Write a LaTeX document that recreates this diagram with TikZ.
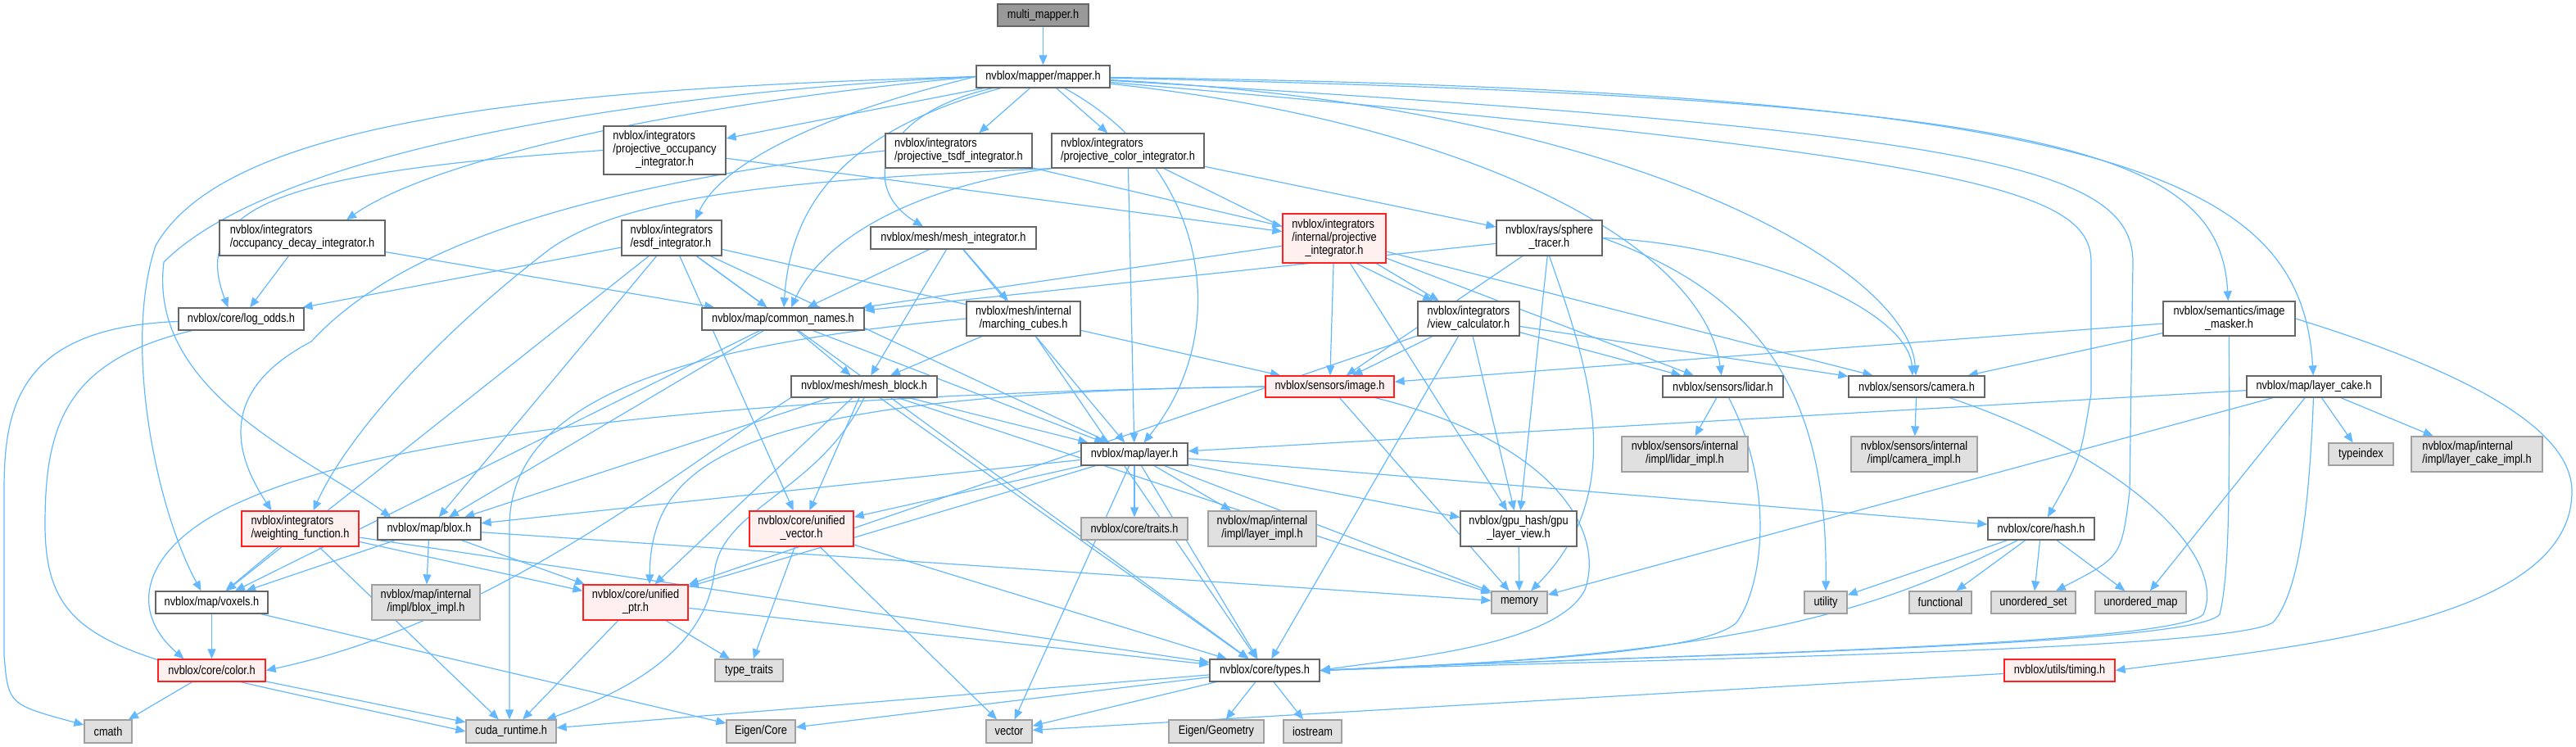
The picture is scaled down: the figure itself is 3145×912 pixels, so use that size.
\documentclass[tikz,border=0pt]{standalone}
\usepackage{fontspec}
\setmainfont{Liberation Sans}[FakeStretch=0.85]
\usetikzlibrary{arrows.meta}
\definecolor{edgec}{HTML}{63B8FF}
\definecolor{wbord}{HTML}{666666}
\definecolor{gbord}{HTML}{A0A0A0}
\definecolor{gfill}{HTML}{E0E0E0}
\definecolor{rbord}{HTML}{FF2020}
\definecolor{rfill}{HTML}{FFF0F0}
\definecolor{rootfill}{HTML}{999999}
\pgfdeclarelayer{bg}
\pgfsetlayers{bg,main}
\newcommand\ml[1]{\begin{tabular}{@{}l@{}}#1\end{tabular}}
\newcommand\lc[1]{\multicolumn{1}{@{}c@{}}{#1}}
\newcommand\nd[7]{\node[#2, minimum width={#5-#3}, minimum height={#6-#4}] (#1) at ({(#3+#5)/2},{(#4+#6)/2}) {#7};}
\begin{document}
\begin{tikzpicture}[x=1pt,y=-1pt,
  font=\fontsize{15}{16}\selectfont,
  wbox/.style={rectangle, draw=wbord, fill=white, line width=1.3pt, inner sep=0pt},
  gbox/.style={rectangle, draw=gbord, fill=gfill, line width=1.3pt, inner sep=0pt},
  rbox/.style={rectangle, draw=rbord, fill=rfill, line width=1.3pt, inner sep=0pt},
  rootbox/.style={rectangle, draw=wbord, fill=rootfill, line width=1.3pt, inner sep=0pt},
  edge/.style={draw=edgec, line width=1.2pt, -{Triangle[length=12pt,width=10pt]}}]
\useasboundingbox (0,0) rectangle (3145,912);
\nd{root}{rootbox}{1218}{5}{1329}{32}{multi\_mapper.h}
\nd{mapper}{wbox}{1192}{80}{1355}{107}{nvblox/mapper/mapper.h}
\nd{projocc}{wbox}{737}{154}{886}{213}{\ml{nvblox/integrators\\/projective\_occupancy\\\lc{\_integrator.h}}}
\nd{occdecay}{wbox}{268}{269}{470}{312}{\ml{nvblox/integrators\\/occupancy\_decay\_integrator.h}}
\nd{esdf}{wbox}{759}{269}{881}{312}{\ml{nvblox/integrators\\/esdf\_integrator.h}}
\nd{projtsdf}{wbox}{1081}{163}{1260}{205}{\ml{nvblox/integrators\\/projective\_tsdf\_integrator.h}}
\nd{projcolor}{wbox}{1284}{163}{1470}{205}{\ml{nvblox/integrators\\/projective\_color\_integrator.h}}
\nd{meshint}{wbox}{1063}{277}{1265}{304}{nvblox/mesh/mesh\_integrator.h}
\nd{projint}{rbox}{1566}{261}{1692}{321}{\ml{nvblox/integrators\\/internal/projective\\\lc{\_integrator.h}}}
\nd{sphere}{wbox}{1827}{269}{1956}{312}{\ml{nvblox/rays/sphere\\\lc{\_tracer.h}}}
\nd{logodds}{wbox}{218}{376}{371}{403}{nvblox/core/log\_odds.h}
\nd{common}{wbox}{857}{376}{1055}{403}{nvblox/map/common\_names.h}
\nd{marching}{wbox}{1180}{368}{1319}{410}{\ml{nvblox/mesh/internal\\\lc{/marching\_cubes.h}}}
\nd{viewcalc}{wbox}{1731}{368}{1855}{410}{\ml{nvblox/integrators\\\lc{/view\_calculator.h}}}
\nd{imagemasker}{wbox}{2641}{368}{2802}{410}{\ml{nvblox/semantics/image\\\lc{\_masker.h}}}
\nd{meshblock}{wbox}{966}{459}{1144}{485}{nvblox/mesh/mesh\_block.h}
\nd{image}{rbox}{1545}{459}{1702}{485}{nvblox/sensors/image.h}
\nd{lidar}{wbox}{2030}{459}{2177}{485}{nvblox/sensors/lidar.h}
\nd{camera}{wbox}{2257}{459}{2423}{485}{nvblox/sensors/camera.h}
\nd{layercake}{wbox}{2743}{459}{2907}{485}{nvblox/map/layer\_cake.h}
\nd{layer}{wbox}{1320}{541}{1450}{568}{nvblox/map/layer.h}
\nd{lidarimpl}{gbox}{1980}{533}{2134}{576}{\ml{nvblox/sensors/internal\\\lc{/impl/lidar\_impl.h}}}
\nd{cameraimpl}{gbox}{2260}{533}{2414}{576}{\ml{nvblox/sensors/internal\\\lc{/impl/camera\_impl.h}}}
\nd{typeindex}{gbox}{2843}{541}{2922}{568}{typeindex}
\nd{layercakeimpl}{gbox}{2944}{533}{3104}{576}{\ml{nvblox/map/internal\\\lc{/impl/layer\_cake\_impl.h}}}
\nd{weighting}{rbox}{295}{624}{438}{667}{\ml{nvblox/integrators\\\lc{/weighting\_function.h}}}
\nd{blox}{wbox}{461}{632}{587}{659}{nvblox/map/blox.h}
\nd{unifiedvector}{rbox}{915}{624}{1042}{667}{\ml{nvblox/core/unified\\\lc{\_vector.h}}}
\nd{traits}{gbox}{1320}{632}{1450}{659}{nvblox/core/traits.h}
\nd{layerimpl}{gbox}{1475}{624}{1607}{667}{\ml{nvblox/map/internal\\\lc{/impl/layer\_impl.h}}}
\nd{gpulayer}{wbox}{1783}{624}{1925}{667}{\ml{nvblox/gpu\_hash/gpu\\\lc{\_layer\_view.h}}}
\nd{hash}{wbox}{2427}{632}{2557}{659}{nvblox/core/hash.h}
\nd{voxels}{wbox}{190}{722}{327}{749}{nvblox/map/voxels.h}
\nd{bloximpl}{gbox}{454}{714}{586}{757}{\ml{nvblox/map/internal\\\lc{/impl/blox\_impl.h}}}
\nd{unifiedptr}{rbox}{712}{714}{840}{757}{\ml{nvblox/core/unified\\\lc{\_ptr.h}}}
\nd{memory}{gbox}{1821}{722}{1889}{749}{memory}
\nd{utility}{gbox}{2203}{722}{2255}{749}{utility}
\nd{functional}{gbox}{2331}{722}{2407}{749}{functional}
\nd{uset}{gbox}{2431}{722}{2534}{749}{unordered\_set}
\nd{umap}{gbox}{2558}{722}{2669}{749}{unordered\_map}
\nd{color}{rbox}{193}{805}{324}{832}{nvblox/core/color.h}
\nd{typetraits}{gbox}{873}{805}{956}{832}{type\_traits}
\nd{types}{wbox}{1477}{805}{1611}{832}{nvblox/core/types.h}
\nd{timing}{rbox}{2447}{805}{2582}{832}{nvblox/utils/timing.h}
\nd{cmath}{gbox}{103}{879}{161}{907}{cmath}
\nd{cuda}{gbox}{569}{879}{679}{907}{cuda\_runtime.h}
\nd{eigencore}{gbox}{887}{879}{971}{907}{Eigen/Core}
\nd{vector}{gbox}{1204}{879}{1260}{907}{vector}
\nd{eigengeom}{gbox}{1427}{879}{1543}{907}{Eigen/Geometry}
\nd{iostream}{gbox}{1567}{879}{1638}{907}{iostream}
\begin{pgfonlayer}{bg}
\foreach \a/\b in {root/mapper, mapper/projocc, mapper/projtsdf, mapper/projcolor,
  projocc/projint, occdecay/logodds, occdecay/common,
  esdf/logodds, esdf/common, esdf/layer, esdf/blox, esdf/voxels, esdf/unifiedvector, esdf/types, esdf/image,
  projtsdf/projint,
  projcolor/layer, projcolor/sphere, projcolor/viewcalc,
  meshint/common, meshint/meshblock, meshint/marching, meshint/layer,
  projint/common, projint/image, projint/viewcalc, projint/lidar, projint/camera, projint/gpulayer,
  sphere/common, sphere/image, sphere/gpulayer,
  common/meshblock, common/layer, common/blox, common/voxels,
  marching/meshblock, marching/types,
  viewcalc/image, viewcalc/lidar, viewcalc/camera, viewcalc/gpulayer, viewcalc/types, viewcalc/unifiedptr,
  imagemasker/image, imagemasker/camera,
  meshblock/layer, meshblock/memory, meshblock/types, meshblock/unifiedvector, meshblock/unifiedptr, meshblock/blox,
  image/memory,
  lidar/lidarimpl, camera/cameraimpl,
  layercake/layer, layercake/memory, layercake/typeindex, layercake/layercakeimpl, layercake/umap,
  layer/blox, layer/traits, layer/layerimpl, layer/gpulayer, layer/memory, layer/types, layer/hash, layer/unifiedptr, layer/unifiedvector, layer/vector,
  weighting/voxels, weighting/cuda, weighting/unifiedptr, weighting/types,
  blox/voxels, blox/bloximpl, blox/unifiedptr, blox/memory,
  unifiedvector/typetraits, unifiedvector/vector, unifiedvector/types,
  gpulayer/memory,
  hash/utility, hash/functional, hash/uset, hash/umap,
  voxels/color, voxels/eigencore, unifiedptr/cuda, unifiedptr/typetraits, unifiedptr/types,
  color/cmath, color/cuda,
  types/cuda, types/eigencore, types/vector, types/eigengeom, types/iostream,
  timing/vector}
  \draw[edge] (\a) -- (\b);
% mapper fan
\draw[edge] (mapper.west) .. controls (700,108) and (280,140) .. (190,300) .. controls (150,420) and (190,620) .. ([xshift=-13pt]voxels.north);
\draw[edge] (mapper.west) .. controls (750,115) and (330,190) .. (200,320) .. controls (180,480) and (380,560) .. ([xshift=-47pt]blox.north);
\draw[edge] (mapper.west) .. controls (800,130) and (520,200) .. ([xshift=54pt]occdecay.north);
\draw[edge] (mapper.west) .. controls (1000,140) and (880,200) .. ([xshift=29pt]esdf.north);
\draw[edge] (mapper) .. controls (1070,140) and (1050,230) .. ([xshift=-37pt]meshint.north);
\draw[edge] (mapper) .. controls (1030,160) and (965,250) .. ([xshift=1pt]common.north);
\draw[edge] (mapper) .. controls (1470,200) and (1510,400) .. (layer);
\draw[edge] (mapper) .. controls (1800,150) and (2080,300) .. (lidar);
\draw[edge] (mapper) .. controls (2000,130) and (2330,330) .. (camera);
\draw[edge] (mapper) .. controls (2500,120) and (2710,180) .. (imagemasker);
\draw[edge] (mapper) .. controls (2600,110) and (2810,220) .. (layercake);
\draw[edge] (mapper) .. controls (2400,160) and (2604,200) .. (2604,320) -- (2600,600) .. controls (2590,680) .. (uset);
\draw[edge] (mapper) .. controls (2400,190) and (2553,230) .. (2553,320) -- (2553,480) .. controls (2540,560) .. (hash);
% integrators
\draw[edge] (projocc.west) .. controls (350,210) and (230,250) .. ([xshift=-16pt]logodds.north);
\draw[edge] (projtsdf.west) .. controls (650,235) and (470,320) .. (380,417) .. controls (260,480) and (290,560) .. ([xshift=-35pt]weighting.north);
\draw[edge] (projcolor.south west) .. controls (950,220) and (760,240) .. (670,305) .. controls (520,420) and (420,540) .. ([xshift=16pt]weighting.north);
\draw[edge] (projcolor.south west) .. controls (1100,230) and (1000,300) .. ([xshift=10pt]common.north);
% sphere tracer
\draw[edge] (sphere.south) .. controls (1940,450) and (1990,600) .. (memory);
\draw[edge] (sphere.east) .. controls (2150,360) and (2232,480) .. (utility.north);
\draw[edge] (sphere.east) .. controls (2150,300) and (2330,380) .. ([xshift=-5pt]camera.north);
% image, mesh block, marching cubes
\draw[edge] (image.west) .. controls (1000,480) and (500,520) .. (300,610) .. controls (180,660) and (150,740) .. ([xshift=-34pt]color.north);
\draw[edge] (image.west) .. controls (900,480) and (795,560) .. ([xshift=17pt]unifiedptr.north);
\draw[edge] (image) .. controls (1900,540) and (1960,650) .. (1935,720) .. controls (1900,790) and (1700,805) .. (types.east);
\draw[edge] (meshblock.south west) .. controls (820,580) and (600,760) .. (color.east);
\draw[edge] (meshblock.south) .. controls (1000,600) and (880,620) .. (872,700) .. controls (860,800) and (750,850) .. ([xshift=43pt]cuda.north);
\draw[edge] (marching.west) .. controls (850,420) and (625,480) .. (622,640) -- ([xshift=-2pt]cuda.north);
% into types from the right
\draw[edge] (lidar) .. controls (2170,600) and (2150,720) .. (2120,760) .. controls (2080,800) and (1800,810) .. (types.east);
\draw[edge] (camera) .. controls (2600,560) and (2720,680) .. (2690,750) .. controls (2650,790) and (2000,800) .. (types.east);
\draw[edge] (imagemasker.south) .. controls (2722,600) and (2722,700) .. (2710,750) .. controls (2680,790) and (2000,800) .. (types.east);
\draw[edge] (layercake) .. controls (2820,600) and (2810,720) .. (2775,760) .. controls (2720,795) and (2000,805) .. (types.east);
\draw[edge] (hash) .. controls (2300,740) and (2150,800) .. (types.east);
% misc
\draw[edge] (logodds) .. controls (20,400) and (5,500) .. (5,600) -- (5,800) .. controls (10,860) .. (cmath);
\draw[edge] (logodds) .. controls (80,440) and (55,520) .. (55,640) .. controls (55,800) and (150,800) .. (cuda.west);
\draw[edge] (imagemasker.east) .. controls (3000,450) and (3140,520) .. (3140,600) .. controls (3140,760) and (2800,790) .. (timing.east);
\end{pgfonlayer}
\end{tikzpicture}
\end{document}
